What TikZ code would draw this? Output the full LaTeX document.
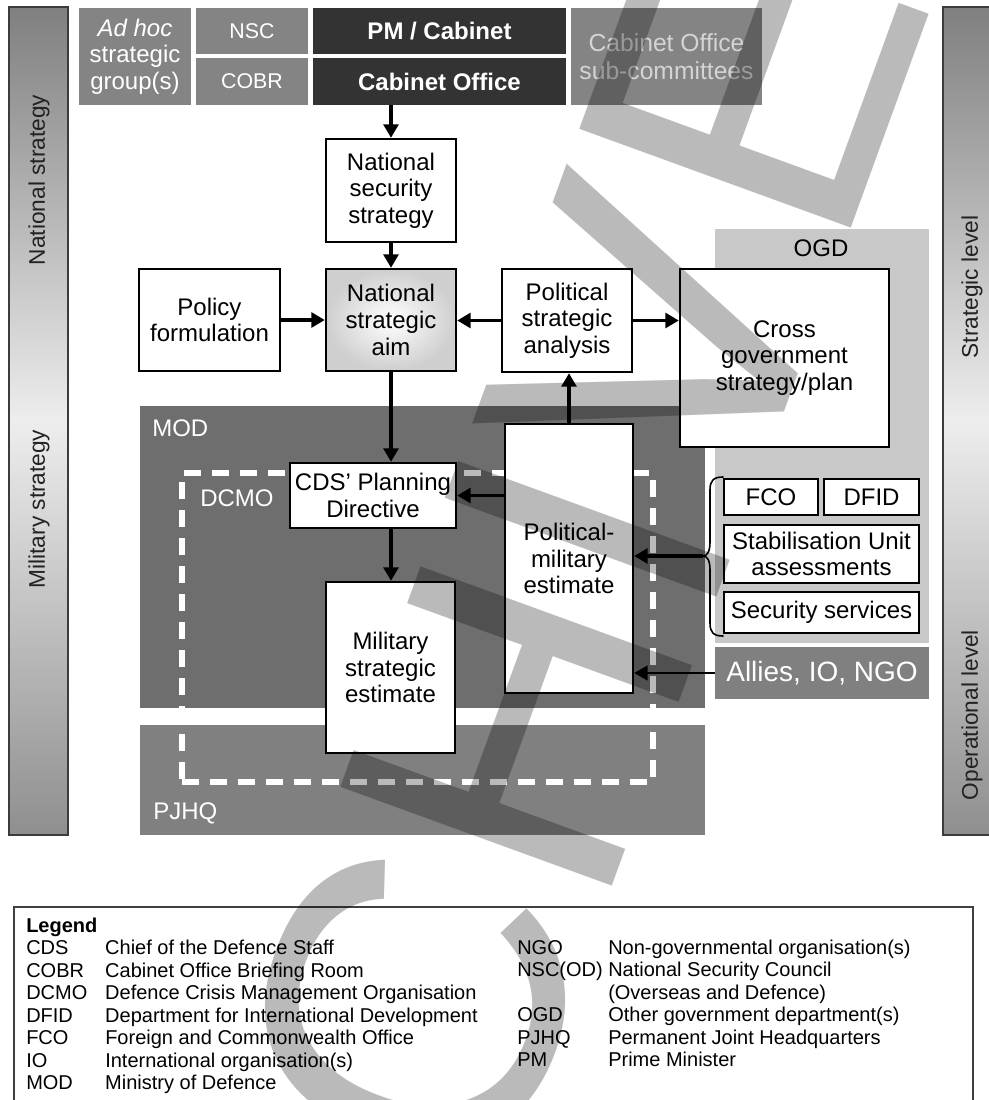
\documentclass[tikz,border=0pt]{standalone}
\usepackage{fontspec}
\setmainfont{Liberation Sans}
\usetikzlibrary{arrows.meta,shadings}
\definecolor{boxgray}{HTML}{848484}
\definecolor{darkbox}{HTML}{333333}
\definecolor{modgray}{HTML}{6E6E6E}
\definecolor{pjgray}{HTML}{808080}
\definecolor{ogdgray}{HTML}{C8C8C8}
\definecolor{subtext}{HTML}{D4D4D4}
\definecolor{bartext}{HTML}{222222}
\definecolor{barline}{HTML}{3C3C3C}
\definecolor{legline}{HTML}{404040}
\newcommand\bx[7]{\node[#6, minimum width={(#4-#2)*0.75pt}, minimum height={(#5-#3)*0.75pt}] (#1) at ({(#2+#4)/2},{(#3+#5)/2}) {#7};}
\tikzset{
  mfont/.style={font=\fontsize{18}{20}\selectfont},
  wbox/.style={draw=black, line width=1.8pt, fill=white, align=center, inner sep=0pt, mfont},
  region/.style={draw=none, inner sep=0pt},
  topbox/.style={fill=boxgray, text=white, align=center, inner sep=0pt, mfont},
  darktop/.style={fill=darkbox, text=white, align=center, inner sep=0pt, font=\fontsize{18}{20}\selectfont\bfseries},
  sidebar/.style={draw=barline, line width=1.1pt, inner sep=0pt, top color=black!50, bottom color=black!44, middle color=black!7},
  sidetext/.style={text=bartext, inner sep=0pt, font=\fontsize{17}{20}\selectfont},
  reglabel/.style={text=white, inner sep=0pt, anchor=west, mfont},
  arr/.style={line width=2.6pt, -{Triangle[length=10pt,width=11pt]}},
  thinarr/.style={line width=1.6pt, -{Triangle[length=10pt,width=11pt]}},
  brace/.style={line width=1.2pt, line cap=round},
  dcmo/.style={draw=white, line width=4pt, dash pattern=on 12.75pt off 8.25pt, inner sep=0pt},
  legtext/.style={inner sep=0pt, anchor=base west, font=\fontsize{15}{16.9}\selectfont},
  wm/.style={inner sep=0pt, outer sep=0pt, text=black, text opacity=0.27, font=\fontsize{315}{315}\selectfont}
}
\begin{document}
\begin{tikzpicture}[x=0.75pt, y=-0.75pt]
\useasboundingbox (0,0) rectangle (989,1100);
\begin{scope}
\clip (0,0) rectangle (989,1100);
% side bars
\bx{lbar}{9}{7}{68}{835}{sidebar}{}
\bx{rbar}{943}{7}{1003}{835}{sidebar}{}
\node[sidetext, rotate=90] (lnat) at (39,180) {National strategy};
\node[sidetext, rotate=90] (lmil) at (39,509) {Military strategy};
\node[sidetext, rotate=90] (rstr) at (972,287) {Strategic level};
\node[sidetext, rotate=90] (rop) at (972,715) {Operational level};
% top row
\bx{adhoc}{79}{8}{191}{105}{topbox}{{\itshape Ad hoc}\\strategic\\group(s)}
\bx{nsc}{196}{8}{308}{54}{topbox, font=\fontsize{16}{18}\selectfont}{NSC}
\bx{cobr}{196}{58}{308}{105}{topbox, font=\fontsize{16}{18}\selectfont}{COBR}
\bx{pm}{313}{8}{566}{54}{darktop}{PM / Cabinet}
\bx{cabo}{313}{58}{566}{105}{darktop}{Cabinet Office}
\bx{subc}{571}{8}{762}{105}{topbox, text=subtext, font=\fontsize{18.5}{21}\selectfont}{Cabinet Office\\sub-committees}
% regions
\bx{ogd}{715}{229}{929}{643}{region, fill=ogdgray}{}
\node[inner sep=0pt, mfont] (ogdl) at (821,248) {OGD};
\bx{mod}{140}{406}{705}{708}{region, fill=modgray}{}
\bx{pjhq}{140}{725}{705}{835}{region, fill=pjgray}{}
\node[reglabel] (modl) at (152,428) {MOD};
\node[reglabel] (pjhql) at (153,813) {PJHQ};
\bx{dcmo}{182}{473}{653}{782}{dcmo}{}
\node[reglabel] (dcmol) at (200,498) {DCMO};
% boxes
\bx{nss}{326}{139}{456}{242}{wbox}{National\\security\\strategy}
\bx{nsa}{326}{269}{456}{371}{wbox, fill=none, inner color=white, outer color=black!19}{National\\strategic\\aim}
\bx{pol}{139}{269}{280}{371}{wbox}{Policy\\formulation}
\bx{psa}{502}{269}{632}{372}{wbox}{Political\\strategic\\analysis}
\bx{cgs}{680}{269}{889}{447}{wbox}{Cross\\government\\strategy/plan}
\bx{cds}{290}{463}{456}{528}{wbox}{CDS’ Planning\\Directive}
\bx{mse}{326}{582}{455}{753}{wbox}{Military\\strategic\\estimate}
\bx{pme}{505}{424}{633}{693}{wbox}{Political-\\military\\estimate}
\bx{fco}{724}{479}{818}{515}{wbox}{FCO}
\bx{dfid}{824}{479}{919}{515}{wbox}{DFID}
\bx{stab}{724}{525}{919}{583}{wbox}{Stabilisation Unit\\assessments}
\bx{sec}{724}{592}{919}{633}{wbox}{Security services}
\bx{allies}{715}{647}{929}{699}{topbox, fill=pjgray, font=\fontsize{21}{24}\selectfont}{Allies, IO, NGO}
% connectors
\draw[arr] (nss.north |- cabo.south) -- (nss.north);
\draw[arr] (nss.south) -- (nsa.north);
\draw[arr] (pol.east) -- (nsa.west);
\draw[arr] (psa.west) -- (psa.west -| nsa.east);
\draw[arr] (psa.east) -- (psa.east -| cgs.west);
\draw[arr] (nsa.south) -- (nsa.south |- cds.north);
\draw[arr] (nsa.south |- cds.south) -- (nsa.south |- mse.north);
\draw[arr] (pme.north) -- (pme.north |- psa.south);
\draw[arr] (pme.west |- cds.east) -- (cds.east);
\coordinate (bt) at (703,556);
\draw[brace] (723,477) .. controls (713,477) and (710,481) .. (710,490) -- (710,542) .. controls (710,552) and (707,556) .. (bt) .. controls (707,556) and (710,560) .. (710,570) -- (710,623) .. controls (710,632) and (713,636) .. (723,636);
\draw[arr] (bt) -- (bt -| pme.east);
\draw[thinarr] (allies.west) -- (allies.west -| pme.east);
% legend
\bx{legbox}{14}{907}{973}{1120}{draw=legline, line width=1pt, inner sep=0pt}{}
\node[legtext] (legl) at (26,932) {\begin{tabular}[t]{@{}p{59.25pt}@{}l@{}}
\multicolumn{2}{@{}l@{}}{\bfseries Legend}\\
CDS & Chief of the Defence Staff\\
COBR & Cabinet Office Briefing Room\\
DCMO & Defence Crisis Management Organisation\\
DFID & Department for International Development\\
FCO & Foreign and Commonwealth Office\\
IO & International organisation(s)\\
MOD & Ministry of Defence
\end{tabular}};
\node[legtext] (legr) at (517,954) {\begin{tabular}[t]{@{}p{68.25pt}@{}l@{}}
NGO & Non-governmental organisation(s)\\
NSC(OD) & National Security Council\\
 & (Overseas and Defence)\\
OGD & Other government department(s)\\
PJHQ & Permanent Joint Headquarters\\
PM & Prime Minister
\end{tabular}};
% watermark
\node[wm, rotate=70, anchor=base west] (wmark) at (297,1752) {ARCHIVED};
\end{scope}
\end{tikzpicture}
\end{document}
